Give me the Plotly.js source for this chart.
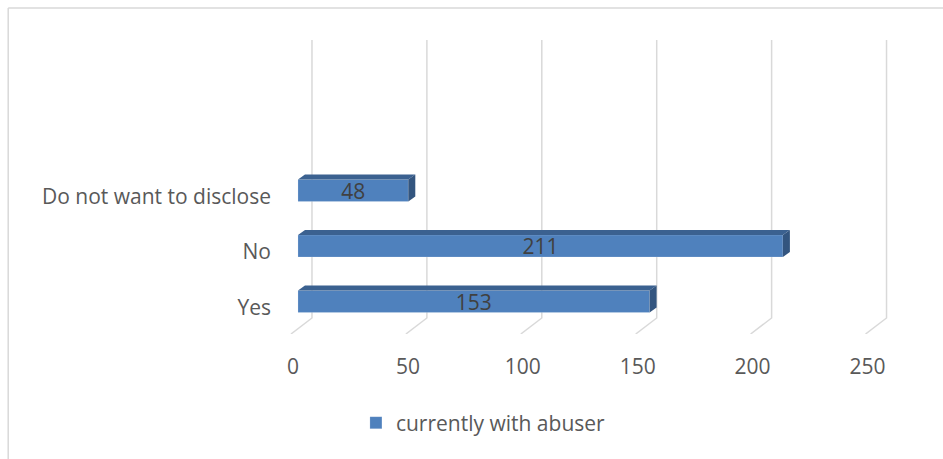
<!DOCTYPE html>
<html>
<head>
<meta charset="utf-8">
<script src="https://cdn.plot.ly/plotly-3.0.1.min.js"></script>
<style>
html,body{margin:0;padding:0;background:#fff;}
#chart{width:943px;height:459px;}
</style>
</head>
<body>
<div id="chart"></div>
<script>
// ---- data ----
const categories = ["Yes", "No", "Do not want to disclose"];
const values = [153, 211, 48];
const seriesName = "currently with abuser";
const xTicks = [0, 50, 100, 150, 200, 250];

// ---- style constants ----
const FONT = "Open Sans, sans-serif";
const FS = 21;
const TXT = "#595959";
const FRONT = "#4F81BD";
const TOP = "#3B6190";
const SIDE = "#33557F";
const GRID = "#D9D9D9";
const X_RANGE = [-10, 265];
const PX_PER_UNIT = 2.3;
const M = {l: 275, r: 943 - (275 + (X_RANGE[1] - X_RANGE[0]) * PX_PER_UNIT), t: 40, b: 125};
const PW = 943 - M.l - M.r, PH = 459 - M.t - M.b;
const px2paperX = p => (p - M.l) / PW;
const px2paperY = p => (459 - M.b - p) / PH;
const DEPTH_X = 7, DEPTH_Y = 5; // bar depth in px
const BAR_H = 22;               // px
const CAT_PX = 55.5;            // px per category
const BAR_W = BAR_H / CAT_PX;   // in category units
const LABEL_DY = -3 / CAT_PX;   // nudge value labels down a few px
const Y_RANGE = [-0.586, 4.712];

const shapes = [];
// back gridlines with slanted floor part
xTicks.forEach(t => {
  shapes.push({
    type: "path", layer: "below",
    xref: "x", xsizemode: "pixel", xanchor: t,
    yref: "y", ysizemode: "pixel", yanchor: Y_RANGE[0],
    path: "M -7,0 L 14,16 L 14,294",
    line: {color: GRID, width: 1.5}
  });
});
// 3D faces for bars
const dUnits = DEPTH_X / PX_PER_UNIT;
values.forEach((v, i) => {
  shapes.push({
    type: "path", layer: "above",
    xref: "x", yref: "y", ysizemode: "pixel", yanchor: i + BAR_W / 2,
    path: `M 0,0 L ${dUnits},${DEPTH_Y} L ${v + dUnits},${DEPTH_Y} L ${v},0 Z`,
    fillcolor: TOP, line: {width: 0}
  });
  shapes.push({
    type: "path", layer: "above",
    xref: "x", xsizemode: "pixel", xanchor: v,
    yref: "y", ysizemode: "pixel", yanchor: i - BAR_W / 2,
    path: `M 0,0 L 0,${BAR_H} L ${DEPTH_X},${BAR_H + DEPTH_Y} L ${DEPTH_X},${DEPTH_Y} Z`,
    fillcolor: SIDE, line: {width: 0}
  });
});
// chart border (top + left)
shapes.push({type: "line", xref: "paper", yref: "paper", x0: px2paperX(8), x1: px2paperX(960), y0: px2paperY(8), y1: px2paperY(8), line: {color: GRID, width: 1.5}});
shapes.push({type: "line", xref: "paper", yref: "paper", x0: px2paperX(8), x1: px2paperX(8), y0: px2paperY(8), y1: px2paperY(470), line: {color: GRID, width: 1.5}});

const barTrace = {
  type: "bar", orientation: "h",
  y: categories.map((c, i) => i),
  x: values,
  width: BAR_W,
  name: seriesName,
  marker: {color: FRONT, line: {color: "rgba(255,255,255,0.35)", width: 0.5}},
  hoverinfo: "none"
};
const labelTrace = {
  type: "scatter", mode: "text",
  y: categories.map((c, i) => i + LABEL_DY),
  x: values.map(v => v / 2),
  text: values.map(String),
  textposition: "middle center",
  textfont: {family: FONT, size: FS, color: "#404040"},
  showlegend: false, hoverinfo: "none", cliponaxis: false
};

const layout = {
  width: 943, height: 459,
  paper_bgcolor: "#fff", plot_bgcolor: "rgba(0,0,0,0)",
  margin: M,
  font: {family: FONT, size: FS, color: TXT},
  showlegend: true,
  legend: {orientation: "h", x: px2paperX(356), xanchor: "left", y: px2paperY(423), yanchor: "middle",
           font: {family: FONT, size: FS, color: TXT}},
  xaxis: {range: X_RANGE, tickvals: xTicks, ticktext: xTicks.map(String),
          showgrid: false, zeroline: false, showline: false, ticks: "",
          ticklabelshift: -5, ticklabelstandoff: 18, fixedrange: true},
  yaxis: {range: Y_RANGE, tickvals: categories.map((c, i) => i), ticktext: categories,
          showgrid: false, zeroline: false, showline: false, ticks: "",
          ticklabelstandoff: 3, ticklabelshift: 6, fixedrange: true},
  shapes: shapes
};

Plotly.newPlot("chart", [barTrace, labelTrace], layout, {displayModeBar: false, staticPlot: true});
</script>
</body>
</html>
